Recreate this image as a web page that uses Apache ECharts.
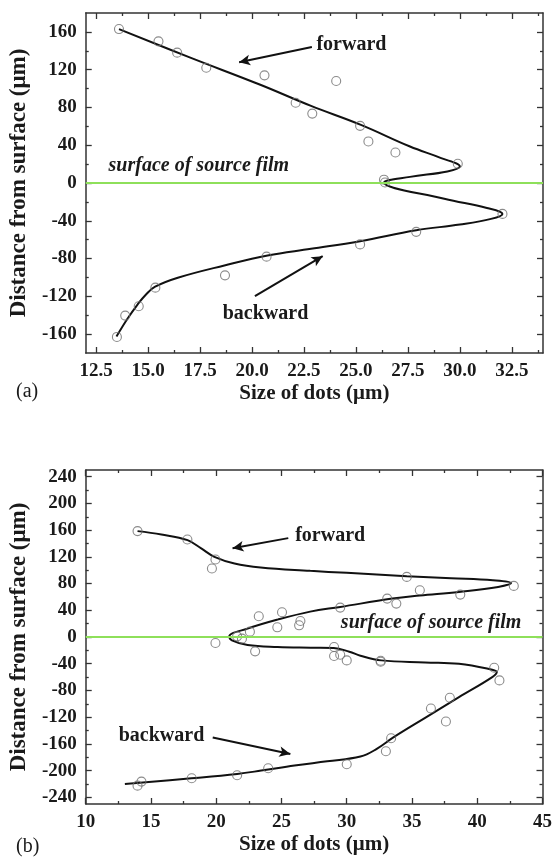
<!DOCTYPE html>
<html><head><meta charset="utf-8">
<script src="https://cdn.jsdelivr.net/npm/echarts@6/dist/echarts.min.js"></script>
<style>html,body{margin:0;padding:0;background:#fff}#c{width:555px;height:859px}</style>
</head><body><div id="c"></div>
<script>
// ---------- Panel (a) data ----------
const aXTicks = [12.5, 15.0, 17.5, 20.0, 22.5, 25.0, 27.5, 30.0, 32.5];
const aXMinor = [13.75, 16.25, 18.75, 21.25, 23.75, 26.25, 28.75, 31.25, 33.75];
const aYTicks = [-160, -120, -80, -40, 0, 40, 80, 120, 160];
const aYMinor = [-140, -100, -60, -20, 20, 60, 100, 140];
const aPoints = [[13.6,163],[15.5,150],[16.4,138],[17.8,122],[20.6,114],[22.1,85],[22.9,73.5],[24.05,108],[25.2,60.5],[25.6,44],[26.9,32.3],[29.9,20.4],[26.35,3.5],[26.4,0.5],[32.05,-32.7],[27.9,-51.7],[25.2,-65],[20.7,-78],[18.7,-97.8],[15.35,-110.8],[14.55,-130.5],[13.9,-140.4],[13.5,-163]];
const aCurve = [[13.6,163],[17.0,133],[20.4,104],[22.84,81.6],[25.24,61.5],[27.6,38.6],[29.1,26.4],[30.0,17.5],[29.4,12.2],[27.6,6.5],[26.36,0.6],[29.25,-16.6],[31.3,-26.4],[32.05,-32.7],[31.5,-38],[30,-44],[27.9,-50],[25.2,-61.6],[22.84,-69.7],[20.75,-76.7],[18.67,-87.3],[16.43,-100.3],[15.34,-109.8],[14.9,-118],[14.5,-128.5],[14.0,-144],[13.48,-162.5]];
const aLabels = [["forward",23.1,146,"normal"],["surface of source film",13.1,18.3,"italic"],["backward",18.59,-139,"normal"]];
const aArrows = [[[22.88,143.9],[19.38,127.9]],[[20.14,-119.7],[23.4,-77.5]]];

// ---------- Panel (b) data ----------
const bXTicks = [10, 15, 20, 25, 30, 35, 40, 45];
const bXMinor = [12.5, 17.5, 22.5, 27.5, 32.5, 37.5, 42.5];
const bYTicks = [-240, -200, -160, -120, -80, -40, 0, 40, 80, 120, 160, 200, 240];
const bYMinor = [-220, -180, -140, -100, -60, -20, 20, 60, 100, 140, 180, 220];
const bPoints = [[13.97,158.5],[17.79,146],[19.94,116],[19.67,102.6],[23.26,31],[25.04,37],[24.68,14.5],[22.58,8],[26.45,24],[26.35,17.5],[21.6,1],[29.5,44],[33.1,57.5],[33.8,50],[34.6,90],[35.6,70],[38.7,63.5],[42.8,76.5],[19.94,-9],[21.97,-2.5],[22.98,-21.5],[29.03,-15],[29.03,-28.5],[29.5,-26.5],[30.0,-35],[32.6,-35.5],[32.6,-37],[41.3,-46],[41.7,-65],[37.9,-91],[36.45,-107],[37.6,-126.5],[33.4,-151.5],[33.0,-171],[30.0,-190.5],[23.98,-196.5],[21.6,-207],[18.12,-211.5],[14.27,-216.5],[13.97,-222.5]];
const bCurve = [[13.97,158.5],[15.8,153.5],[17.8,145],[18.85,132.6],[19.86,120],[21.4,110],[23.4,104],[27.2,99],[30,96],[34.6,91],[38,88],[41.2,85],[42.6,81],[41.6,75],[38.6,67.5],[35.6,62],[33.5,57.5],[29.5,45],[27.2,38],[24.7,26],[22.4,12.5],[21.0,1],[21.2,-5],[22.4,-12],[24.7,-15],[27.25,-16],[29.0,-16.5],[30.2,-22],[31.05,-28],[32.65,-35],[36,-38],[38.6,-40],[41.15,-49],[41.5,-52.5],[41.15,-60],[38.6,-90],[36.1,-120],[33.6,-150],[32.3,-167.5],[31.05,-179],[28.5,-186],[26.0,-192.5],[23.45,-200],[21.6,-205],[18.1,-211.5],[13.0,-220]];
const bLabels = [["forward",26.05,151.5,"normal"],["surface of source film",29.55,20.5,"italic"],["backward",12.53,-147.5,"normal"]];
const bArrows = [[[25.52,148],[21.25,133]],[[19.73,-150.5],[25.68,-175]]];

const FONT = 'Liberation Serif';
const INK = '#1a1a1a';
const LINE = '#333';

function axesFor(dim, gi, min, max, majors, minors, fmt, name, nameGap, nameSize) {
  const main = dim === 'x' ? 'bottom' : 'left';
  const opp = dim === 'x' ? 'top' : 'right';
  const base = {type:'value', gridIndex:gi, min:min, max:max, splitLine:{show:false}, scale:false};
  const out = [];
  out.push(Object.assign({}, base, {
    position: main,
    axisLine:{show:true, onZero:false, lineStyle:{color:LINE, width:1.5}},
    axisTick:{show:true, inside:true, length:6, customValues:majors, lineStyle:{color:LINE, width:1.3}},
    axisLabel:{show:true, customValues:majors, formatter:fmt, margin:9, fontFamily:FONT, fontWeight:'bold', fontSize:19, color:INK},
    name:name, nameLocation:'middle', nameGap:nameGap, nameRotate: dim==='x'?0:90,
    nameTextStyle:{fontFamily:FONT, fontWeight:'bold', fontSize:nameSize, color:INK}
  }));
  out.push(Object.assign({}, base, {
    position: main,
    axisLine:{show:false, onZero:false},
    axisTick:{show:true, inside:true, length:3, customValues:minors, lineStyle:{color:LINE, width:1.3}},
    axisLabel:{show:false}
  }));
  out.push(Object.assign({}, base, {
    position: opp,
    axisLine:{show:true, onZero:false, lineStyle:{color:LINE, width:1.5}},
    axisTick:{show:true, inside:true, length:6, customValues:majors, lineStyle:{color:LINE, width:1.3}},
    axisLabel:{show:false}
  }));
  out.push(Object.assign({}, base, {
    position: opp,
    axisLine:{show:false, onZero:false},
    axisTick:{show:true, inside:true, length:3, customValues:minors, lineStyle:{color:LINE, width:1.3}},
    axisLabel:{show:false}
  }));
  return out;
}

const xAxes = [].concat(
  axesFor('x', 0, 12, 34, aXTicks, aXMinor, v => v.toFixed(1), 'Size of dots (μm)', 30, 21),
  axesFor('x', 1, 10, 45, bXTicks, bXMinor, v => String(v), 'Size of dots (μm)', 30, 21)
);
const yAxes = [].concat(
  axesFor('y', 0, -180, 180, aYTicks, aYMinor, v => String(v), 'Distance from surface (μm)', 50, 23),
  axesFor('y', 1, -250, 250, bYTicks, bYMinor, v => String(v), 'Distance from surface (μm)', 50, 23)
);

function panelSeries(gi, points, curve, labels, arrows) {
  const xi = gi * 4, yi = gi * 4;
  return [
    {type:'line', xAxisIndex:xi, yAxisIndex:yi, data:[], silent:true,
     markLine:{silent:true, symbol:['none','none'], label:{show:false},
       lineStyle:{color:'#8ee05a', width:2, type:'solid'}, data:[{yAxis:0}]}},
    {type:'line', xAxisIndex:xi, yAxisIndex:yi, data:curve, smooth:0.4, showSymbol:false,
     lineStyle:{color:'#111', width:2}, z:3},
    {type:'scatter', xAxisIndex:xi, yAxisIndex:yi, data:points, symbol:'circle', symbolSize:9,
     itemStyle:{color:'rgba(255,255,255,0)', borderColor:'#6e6e6e', borderWidth:1.1}, z:4},
    {type:'line', xAxisIndex:xi, yAxisIndex:yi, data:[], silent:true,
     markLine:{silent:true, symbol:['none','arrow'], symbolSize:[8,11], label:{show:false},
       lineStyle:{color:'#111', width:2, type:'solid'},
       data: arrows.map(a => [{coord:a[0]},{coord:a[1]}])},
     markPoint:{silent:true, symbol:'circle', symbolSize:0,
       data: labels.map(l => ({coord:[l[1], l[2]], value:l[0],
         label:{show:true, position:'right', distance:0, formatter:l[0],
           fontFamily:FONT, fontWeight:'bold', fontStyle:l[3], fontSize:20, color:INK}}))}}
  ];
}

const chart = echarts.init(document.getElementById('c'), null, {renderer:'canvas'});
chart.setOption({
  animation:false,
  backgroundColor:'#fff',
  grid:[
    {left:84, top:13, width:459, height:340},
    {left:83, top:470, width:461, height:334}
  ],
  xAxis:xAxes,
  yAxis:yAxes,
  graphic:[
    {type:'text', left:16, top:382, style:{text:'(a)', fontFamily:FONT, fontSize:20, fill:INK}},
    {type:'text', left:16, top:837, style:{text:'(b)', fontFamily:FONT, fontSize:20, fill:INK}}
  ],
  series:[].concat(
    panelSeries(0, aPoints, aCurve, aLabels, aArrows),
    panelSeries(1, bPoints, bCurve, bLabels, bArrows)
  )
});
</script></body></html>
